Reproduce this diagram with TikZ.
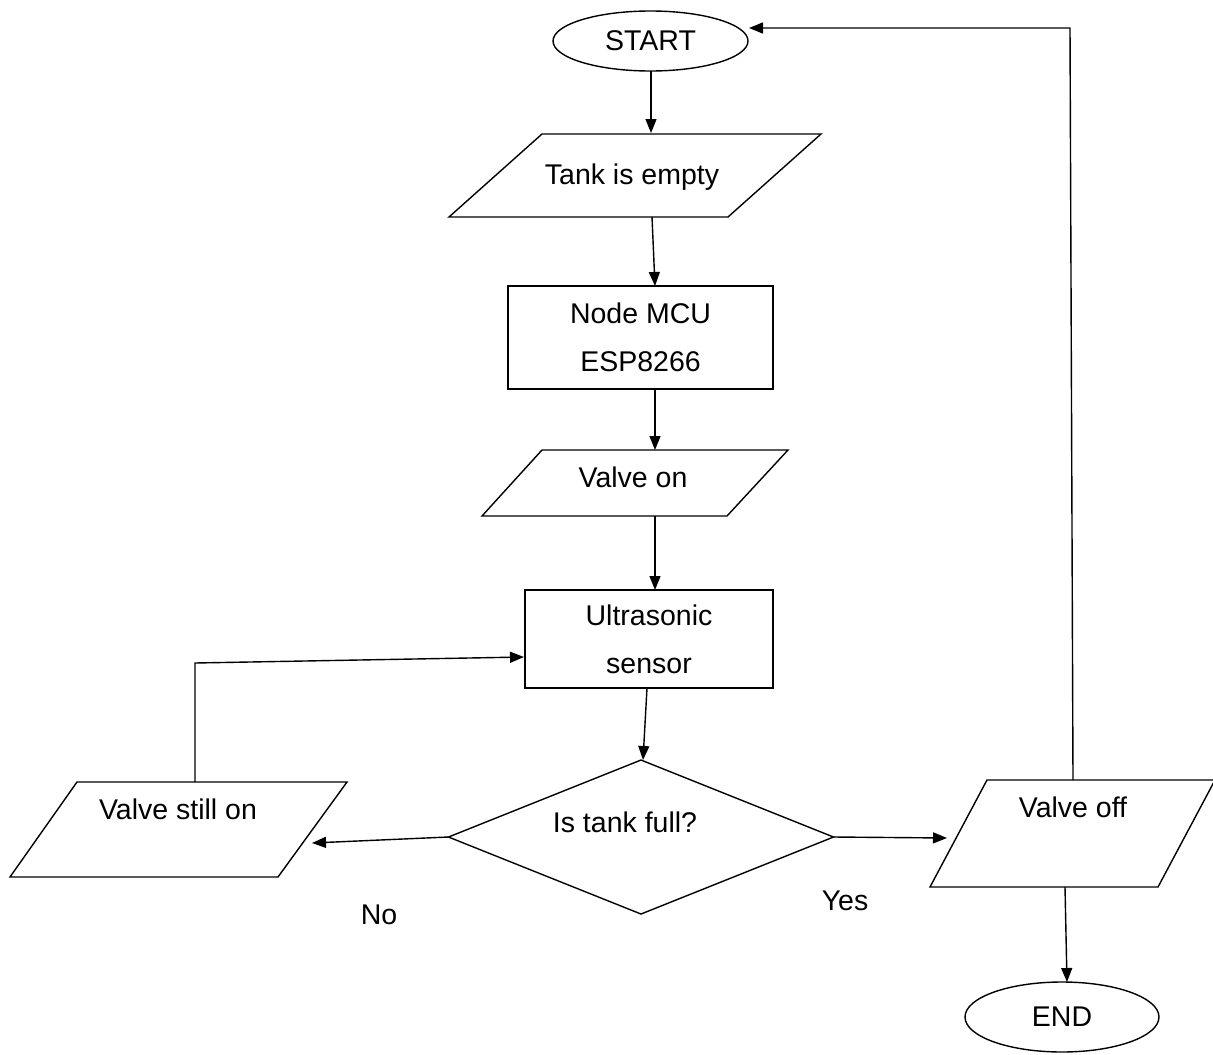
\documentclass[tikz,border=0pt]{standalone}
\usepackage{fontspec}
\setmainfont{Liberation Sans}
\usetikzlibrary{arrows.meta,shapes.geometric}
\begin{document}
\begin{tikzpicture}[x=1pt,y=-1pt,
  line width=1.4pt,
  txt/.style={font=\fontsize{28.5}{48}\selectfont, inner sep=0pt, align=center},
  conn/.style={-{Triangle[length=14pt,width=11pt]}},
  term/.style={draw, ellipse, inner sep=0pt, outer sep=0pt, font=\fontsize{28.5}{33}\selectfont},
  procbox/.style={draw, rectangle, inner sep=0pt, outer sep=0pt, align=center, font=\fontsize{28.5}{48}\selectfont},
  iobox/.style={draw, line join=miter},
  decide/.style={draw, diamond, inner sep=0pt, outer sep=0pt}
]
\useasboundingbox (0,0) rectangle (1213,1055);

% terminals and boxes
\node[term, minimum width=195pt, minimum height=60pt] (start) at (650.5,41) {START};
\node[procbox, minimum width=265pt, minimum height=103pt] (mcu) at (640.5,337.5) {Node MCU\\ESP8266};
\node[procbox, minimum width=248pt, minimum height=98pt] (us) at (649,639) {Ultrasonic\\sensor};
\node[decide, minimum width=385pt, minimum height=154pt] (dia) at (641,837) {};
\node[term, minimum width=194pt, minimum height=70pt] (end) at (1062,1017) {END};

% input/output parallelograms
\draw[iobox] (542,134) -- (821,134) -- (728,217) -- (449,217) -- cycle;
\draw[iobox] (542,450) -- (788,450) -- (727,516) -- (482,516) -- cycle;
\draw[iobox] (77,782) -- (347,782) -- (278,877) -- (10,877) -- cycle;
\draw[iobox] (987,780) -- (1215,780) -- (1158,887) -- (930,887) -- cycle;

% texts
\node[txt] (tanktxt) at (632,177) {Tank is empty};
\node[txt] (vontxt) at (633,477) {Valve on};
\node[txt] (diatxt) at (625,822) {Is tank full?};
\node[txt] (vstilltxt) at (178,809) {Valve still on};
\node[txt] (vofftxt) at (1073,807) {Valve off};
\node[txt] (no) at (379,915) {No};
\node[txt] (yes) at (845,901) {Yes};

% connection points
\coordinate (c1e) at (651,133);
\coordinate (c2s) at (652,217);  \coordinate (c2e) at (655,286);
\coordinate (c3s) at (655,389);  \coordinate (c3e) at (655,450);
\coordinate (c4s) at (655,516);  \coordinate (c4e) at (655,590);
\coordinate (c5s) at (647,688);  \coordinate (c5e) at (643,760);
\coordinate (c6e) at (312,843);
\coordinate (c7s) at (195,782);  \coordinate (c7m) at (195,663); \coordinate (c7e) at (524,657);
\coordinate (c8e) at (947,838);
\coordinate (c9s) at (1073,780); \coordinate (c9m) at (1070,28); \coordinate (c9e) at (749,28);
\coordinate (c10s) at (1065,887); \coordinate (c10e) at (1067,982);

% connectors
\draw[conn] (start.south -| c1e) -- (c1e);
\draw[conn] (c2s) -- (c2e);
\draw[conn] (c3s) -- (c3e);
\draw[conn] (c4s) -- (c4e);
\draw[conn] (c5s) -- (c5e);
\draw[conn] (dia.west) -- (c6e);
\draw[conn] (c7s) -- (c7m) -- (c7e);
\draw[conn] (dia.east) -- (c8e);
\draw[conn] (c9s) -- (c9m) -- (c9e);
\draw[conn] (c10s) -- (c10e);
\end{tikzpicture}
\end{document}
